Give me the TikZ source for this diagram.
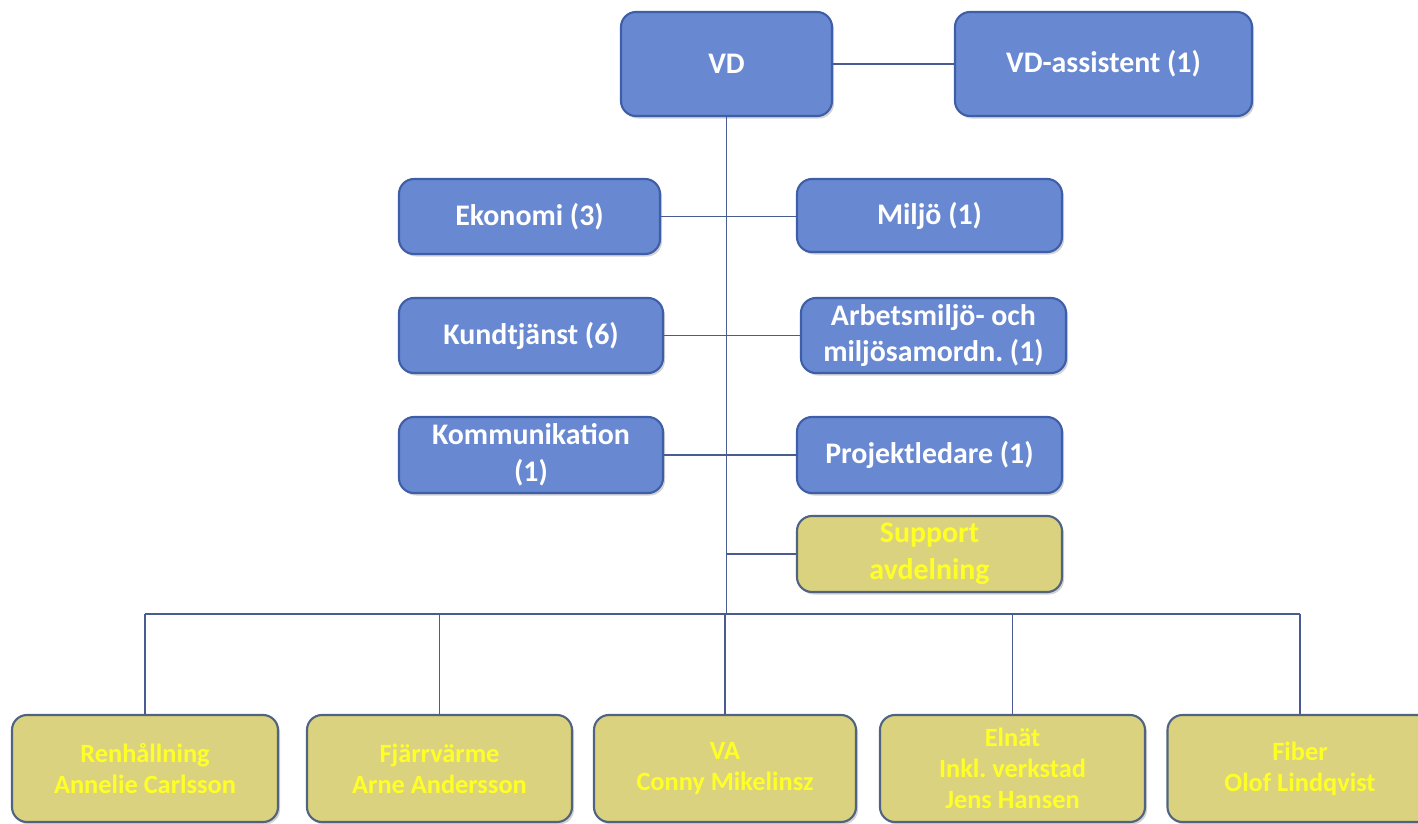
\documentclass[tikz,border=0pt]{standalone}
\usepackage{fontspec}
\setmainfont{Carlito}
\usetikzlibrary{shadows}
\frenchspacing
\definecolor{bfill}{RGB}{104,136,210}
\definecolor{bdraw}{RGB}{62,94,168}
\definecolor{yfill}{RGB}{218,210,126}
\definecolor{ydraw}{RGB}{80,100,130}
\definecolor{ytext}{RGB}{255,255,40}
\definecolor{lcol}{RGB}{72,92,145}
\begin{document}
\begin{tikzpicture}[
  box/.style={rounded corners=0.3cm, line width=1.2pt, align=center, font=\bfseries\fontsize{17pt}{21pt}\selectfont, inner sep=2pt,
    drop shadow={shadow xshift=0.04cm, shadow yshift=-0.05cm, opacity=0.35}},
  bbox/.style={box, fill=bfill, draw=bdraw, text=white},
  ybox/.style={box, fill=yfill, draw=ydraw, text=ytext},
  lowbox/.style={ybox, font=\bfseries\fontsize{15pt}{17.5pt}\selectfont},
  conn/.style={draw=lcol, line width=0.7pt}
]
\useasboundingbox (0,0) rectangle (28.36,-16.48);
\clip (0,0) rectangle (28.36,-16.48);
\fill[white] (0,0) rectangle (28.36,-16.48);

\node[bbox, minimum width=4.22cm, minimum height=2.08cm] (vd) at (14.53,-1.28) {VD};
\node[bbox, minimum width=5.94cm, minimum height=2.08cm] (vda) at (22.07,-1.28) {VD-assistent (1)};

\node[bbox, minimum width=5.22cm, minimum height=1.5cm] (eko) at (10.59,-4.33) {Ekonomi (3)};
\node[bbox, minimum width=5.3cm, minimum height=1.46cm] (milj) at (18.59,-4.31) {Miljö (1)};
\node[bbox, minimum width=5.28cm, minimum height=1.5cm] (kund) at (10.62,-6.71) {Kundtjänst (6)};
\node[bbox, minimum width=5.3cm, minimum height=1.5cm] (arb) at (18.67,-6.71) {Arbetsmiljö- och\\miljösamordn. (1)};
\node[bbox, minimum width=5.28cm, minimum height=1.52cm] (komm) at (10.62,-9.10) {Kommunikation\\(1)};
\node[bbox, minimum width=5.3cm, minimum height=1.52cm] (proj) at (18.59,-9.10) {Projektledare (1)};
\node[ybox, minimum width=5.3cm, minimum height=1.52cm] (sup) at (18.59,-11.08) {Support\\avdelning};

\node[lowbox, minimum width=5.32cm, minimum height=2.14cm] (b1) at (2.90,-15.37) {Renhållning\\Annelie Carlsson};
\node[lowbox, minimum width=5.3cm, minimum height=2.14cm] (b2) at (8.79,-15.37) {Fjärrvärme\\Arne Andersson};
\node[lowbox, minimum width=5.24cm, minimum height=2.14cm] (b3) at (14.50,-15.37) {VA\\Conny Mikelinsz};
\node[lowbox, minimum width=5.3cm, minimum height=2.14cm] (b4) at (20.25,-15.37) {Elnät\\Inkl. verkstad\\Jens Hansen};
\node[lowbox, minimum width=5.3cm, minimum height=2.14cm] (b5) at (26.00,-15.37) {Fiber\\Olof Lindqvist};

\coordinate (bus) at (14.54,-12.28);
\coordinate (bL) at (b1.north |- bus);
\coordinate (bR) at (b5.north |- bus);

\path[conn] (vd.east) -- (vda.west);
\path[conn] (eko.east) -- (eko.east -| milj.west);
\path[conn] (kund.east) -- (kund.east -| arb.west);
\path[conn] (komm.east) -- (komm.east -| proj.west);
\path[conn] (vd.south) -- (vd.south |- bus);
\path[conn] (sup.west) -- (sup.west -| vd.south);
\path[conn] (bL) -- (bR);
\foreach \b in {b1,b2,b3,b4,b5} {\path[conn] (\b.north) -- (\b.north |- bus);}
\end{tikzpicture}
\end{document}
